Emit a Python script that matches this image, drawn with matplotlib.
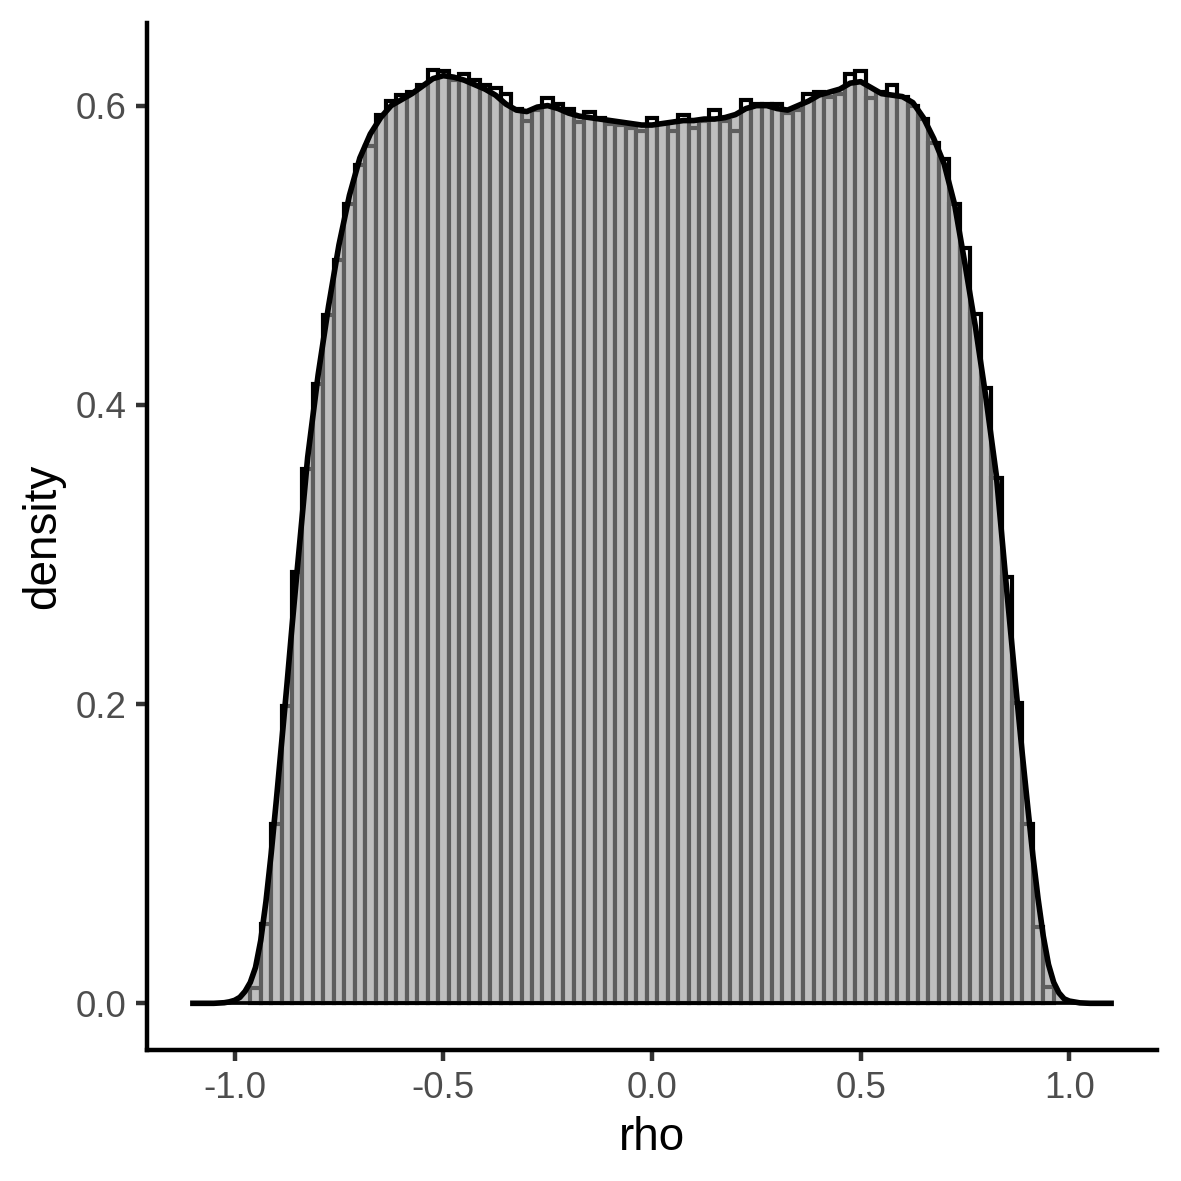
import matplotlib
matplotlib.use('Agg')
import matplotlib.pyplot as plt

plt.rcParams['font.family'] = ['Liberation Sans', 'DejaVu Sans']
plt.rcParams['axes.unicode_minus'] = False

# histogram: bins of width 0.025 centred on -0.95 .. 0.95
bin_width = 0.025
bin_centers = [-0.95 + bin_width * i for i in range(77)]
bin_density = [
    0.010, 0.053, 0.120, 0.199, 0.288, 0.357, 0.414, 0.460, 0.497, 0.534,
    0.560, 0.573, 0.594, 0.603, 0.607, 0.609, 0.614, 0.624, 0.623, 0.617,
    0.621, 0.617, 0.614, 0.612, 0.608, 0.598, 0.590, 0.597, 0.605, 0.601,
    0.598, 0.589, 0.596, 0.592, 0.588, 0.587, 0.585, 0.583, 0.592, 0.588,
    0.583, 0.594, 0.585, 0.590, 0.597, 0.590, 0.583, 0.604, 0.601, 0.601,
    0.601, 0.595, 0.597, 0.608, 0.609, 0.606, 0.608, 0.621, 0.623, 0.605,
    0.609, 0.614, 0.606, 0.600, 0.591, 0.575, 0.564, 0.534, 0.505, 0.461,
    0.411, 0.351, 0.285, 0.201, 0.120, 0.051, 0.011,
]

# kernel density curve
kde_x = [
    -1.1, -1.05, -1.025, -1.0125, -1.0, -0.9875, -0.975, -0.9625, -0.95, -0.9375,
    -0.925, -0.9125, -0.9, -0.8875, -0.875, -0.8625, -0.85, -0.825, -0.8, -0.775,
    -0.75, -0.725, -0.7, -0.675, -0.65, -0.625, -0.6, -0.575, -0.55, -0.525,
    -0.5, -0.475, -0.45, -0.425, -0.4, -0.375, -0.35, -0.325, -0.3, -0.275,
    -0.25, -0.225, -0.2, -0.175, -0.15, -0.125, -0.1, -0.075, -0.05, -0.025,
    0.0, 0.025, 0.05, 0.075, 0.1, 0.125, 0.15, 0.175, 0.2, 0.225,
    0.25, 0.275, 0.3, 0.325, 0.35, 0.375, 0.4, 0.425, 0.45, 0.475,
    0.5, 0.525, 0.55, 0.575, 0.6, 0.625, 0.65, 0.675, 0.7, 0.725,
    0.75, 0.775, 0.8, 0.825, 0.85, 0.8625, 0.875, 0.8875, 0.9, 0.9125,
    0.925, 0.9375, 0.95, 0.9625, 0.975, 0.9875, 1.0, 1.025, 1.05, 1.1,
]
kde_y = [
    0.0, 0.0, 0.0004, 0.001, 0.002, 0.004, 0.008, 0.014, 0.024, 0.042,
    0.068, 0.100, 0.136, 0.174, 0.212, 0.252, 0.290, 0.365, 0.420, 0.466,
    0.507, 0.540, 0.565, 0.581, 0.592, 0.600, 0.604, 0.608, 0.613, 0.618,
    0.620, 0.619, 0.617, 0.614, 0.611, 0.607, 0.601, 0.597, 0.596, 0.599,
    0.600, 0.598, 0.595, 0.593, 0.592, 0.591, 0.590, 0.589, 0.588, 0.587,
    0.587, 0.588, 0.589, 0.590, 0.590, 0.591, 0.591, 0.592, 0.594, 0.598,
    0.600, 0.600, 0.598, 0.597, 0.600, 0.603, 0.607, 0.609, 0.611, 0.615,
    0.616, 0.612, 0.608, 0.607, 0.606, 0.602, 0.592, 0.578, 0.561, 0.534,
    0.494, 0.452, 0.405, 0.353, 0.276, 0.239, 0.202, 0.166, 0.132, 0.099,
    0.070, 0.045, 0.026, 0.014, 0.007, 0.003, 0.0015, 0.0003, 0.0, 0.0,
]

x_ticks = [-1.0, -0.5, 0.0, 0.5, 1.0]
x_tick_labels = ['-1.0', '-0.5', '0.0', '0.5', '1.0']
y_ticks = [0.0, 0.2, 0.4, 0.6]
y_tick_labels = ['0.0', '0.2', '0.4', '0.6']

fig = plt.figure(figsize=(1181 / 300, 1181 / 300), dpi=300)
ax = fig.add_axes([147 / 1181, 131 / 1181, 1010 / 1181, 1027 / 1181])

# histogram (white bars, black outline)
ax.bar(bin_centers, bin_density, width=bin_width, color='white',
       edgecolor='black', linewidth=1.0, zorder=1)

# density with translucent grey fill
ax.fill_between(kde_x, kde_y, 0, color='#999999', alpha=0.62, linewidth=0, zorder=2)
ax.plot([kde_x[0], kde_x[-1]], [0, 0], color='black', linewidth=0.9, zorder=3)
ax.plot(kde_x, kde_y, color='black', linewidth=1.35, zorder=3,
        solid_joinstyle='round')

ax.set_xlim(-1.21, 1.21)
ax.set_ylim(-0.0312, 0.6552)

ax.set_xticks(x_ticks)
ax.set_xticklabels(x_tick_labels)
ax.set_yticks(y_ticks)
ax.set_yticklabels(y_tick_labels)

ax.tick_params(axis='both', length=2.75, width=1.07, color='#333333',
               labelcolor='#4D4D4D', labelsize=8.8, pad=2.2)

for side in ['top', 'right']:
    ax.spines[side].set_visible(False)
for side in ['left', 'bottom']:
    ax.spines[side].set_linewidth(1.07)
    ax.spines[side].set_color('black')

ax.set_xlabel('rho', fontsize=11, color='black', labelpad=2.5)
ax.set_ylabel('density', fontsize=11, color='black', labelpad=2.5)

fig.savefig('out.png', dpi=300, facecolor='white')
